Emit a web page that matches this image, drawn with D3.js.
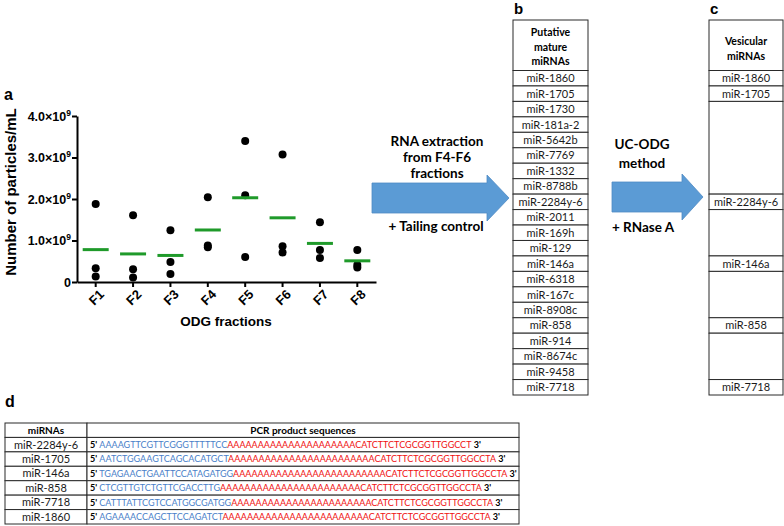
<!doctype html>
<html lang="en">
<head>
  <meta charset="utf-8">
  <title>ODG fractions and vesicular miRNAs</title>
  <script src="https://d3js.org/d3.v7.min.js"></script>
  <style>
    body { margin: 0; background: #fff; }
    text { font-family: Arial, "Liberation Sans", sans-serif; }
    .cal { font-family: Lato, "Open Sans", sans-serif; }
  </style>
</head>
<body>
  <div id="fig"></div>
<script>
  const width = 784, height = 526;

  // panel a: particles per mL, in units of 10^9
  const fractions = ["F1", "F2", "F3", "F4", "F5", "F6", "F7", "F8"];
  const particles = [
    [1.88, 0.33, 0.13],
    [1.61, 0.31, 0.11],
    [1.25, 0.48, 0.19],
    [2.04, 0.88, 0.84],
    [3.40, 2.09, 0.60],
    [3.07, 0.86, 0.71],
    [1.44, 0.77, 0.58],
    [0.77, 0.41, 0.35]
  ];
  const yTicks = [0, 1, 2, 3, 4];

  // panel b and c
  const putative = ["miR-1860", "miR-1705", "miR-1730", "miR-181a-2", "miR-5642b", "miR-7769",
    "miR-1332", "miR-8788b", "miR-2284y-6", "miR-2011", "miR-169h", "miR-129", "miR-146a",
    "miR-6318", "miR-167c", "miR-8908c", "miR-858", "miR-914", "miR-8674c", "miR-9458", "miR-7718"];
  const vesicular = ["miR-1860", "miR-1705", "miR-2284y-6", "miR-146a", "miR-858", "miR-7718"];

  // panel d
  const pcrMirnas = ["miR-2284y-6", "miR-1705", "miR-146a", "miR-858", "miR-7718", "miR-1860"];
  const pcrInsert = ["AAAAGTTCGTTCGGGTTTTTCC", "AATCTGGAAGTCAGCACATGCT", "TGAGAACTGAATTCCATAGATGG",
    "CTCGTTGTCTGTTCGACCTTG", "CATTTATTCGTCCATGGCGATGG", "AGAAAACCAGCTTCCAGATCT"];
  const pcrTail = [
    "AAAAAAAAAAAAAAAAAAAAACATCTTCTCGCGGTTGGCCT",
    "AAAAAAAAAAAAAAAAAAAAAAAACATCTTCTCGCGGTTGGCCTA",
    "AAAAAAAAAAAAAAAAAAAAAAAAACATCTTCTCGCGGTTGGCCTA",
    "AAAAAAAAAAAAAAAAAAAAAAACATCTTCTCGCGGTTGGCCTA",
    "AAAAAAAAAAAAAAAAAAAAAAACATCTTCTCGCGGTTGGCCTA",
    "AAAAAAAAAAAAAAAAAAAAAAAACATCTTCTCGCGGTTGGCCTA"
  ];

  const svg = d3.select('#fig').append('svg')
    .attr('width', width)
    .attr('height', height)
    .style('background', '#fff');

  // ---------- panel a ----------
  const x = d3.scaleBand().domain(fractions).range([77, 376]);
  const y = d3.scaleLinear().domain([0, 4]).range([282, 116]);
  const green = '#1f9a2a';

  svg.append('text').attr('x', 4).attr('y', 100)
    .style('font-weight', 'bold').style('font-size', '16px').text('a');

  const yAxis = svg.append('g')
    .attr('transform', 'translate(77,0)')
    .call(d3.axisLeft(y).tickValues(yTicks).tickSize(5).tickSizeOuter(0).tickFormat(''));
  yAxis.select('.domain').attr('stroke-width', 2);
  yAxis.selectAll('.tick line').attr('stroke-width', 2);
  yAxis.selectAll('.tick').each(function(d) {
    const t = d3.select(this).append('text')
      .attr('x', -6).attr('dy', '0.35em')
      .attr('text-anchor', 'end').attr('fill', '#000')
      .style('font-weight', 'bold').style('font-size', '12.5px');
    if (d === 0) { t.text('0'); return; }
    t.append('tspan').text(d.toFixed(1) + '\u00d710');
    t.append('tspan').attr('dy', -5).style('font-size', '8.5px').text('9');
  });

  const xAxis = svg.append('g')
    .attr('transform', 'translate(0,282)')
    .call(d3.axisBottom(x).tickSize(5).tickSizeOuter(0));
  xAxis.select('.domain').attr('stroke-width', 2);
  xAxis.selectAll('.tick line').attr('stroke-width', 2);
  xAxis.selectAll('.tick text')
    .attr('text-anchor', 'end')
    .attr('transform', 'translate(6,10) rotate(-45)')
    .attr('dy', '0.35em').attr('y', 0)
    .style('font-weight', 'bold').style('font-size', '13px');

  svg.append('text').attr('x', 226).attr('y', 326).attr('text-anchor', 'middle')
    .style('font-weight', 'bold').style('font-size', '13.5px').text('ODG fractions');
  svg.append('text').attr('transform', 'translate(16,192) rotate(-90)').attr('text-anchor', 'middle')
    .style('font-weight', 'bold').style('font-size', '15px').text('Number of particles/mL');

  const groups = svg.append('g').selectAll('g')
    .data(fractions.map((f, i) => ({f: f, vals: particles[i]})))
    .enter().append('g');
  groups.selectAll('circle')
    .data(d => d.vals.map(v => ({f: d.f, v: v})))
    .enter().append('circle')
      .attr('cx', d => x(d.f) + x.bandwidth() / 2)
      .attr('cy', d => y(d.v))
      .attr('r', 4)
      .attr('fill', '#000');
  groups.append('line')
    .attr('x1', d => x(d.f) + x.bandwidth() / 2 - 13)
    .attr('x2', d => x(d.f) + x.bandwidth() / 2 + 13)
    .attr('y1', d => y(d3.mean(d.vals)))
    .attr('y2', d => y(d3.mean(d.vals)))
    .attr('stroke', green).attr('stroke-width', 3);

  // ---------- arrows ----------
  function arrow(x0, xb, xt, cy, bh, hh) {
    return [[x0, cy - bh], [xb, cy - bh], [xb, cy - hh], [xt, cy], [xb, cy + hh], [xb, cy + bh], [x0, cy + bh]];
  }
  const arrows = [arrow(372, 487, 509, 198, 15, 23), arrow(612, 682, 703, 197, 15, 23)];
  svg.selectAll('polygon.arrow').data(arrows).enter().append('polygon')
    .attr('class', 'arrow')
    .attr('points', d => d.map(p => p.join(',')).join(' '))
    .attr('fill', '#5b9bd5').attr('stroke', '#4f8ac4').attr('stroke-width', 0.8);

  const arrowText = [
    {x: 437, y: 146, t: 'RNA extraction'}, {x: 437, y: 162, t: 'from F4-F6'}, {x: 437, y: 178, t: 'fractions'},
    {x: 436, y: 231, t: '+ Tailing control'},
    {x: 642, y: 149, t: 'UC-ODG'}, {x: 642, y: 168, t: 'method'}, {x: 643, y: 232, t: '+ RNase A'}
  ];
  svg.selectAll('text.arr').data(arrowText).enter().append('text')
    .attr('class', 'arr cal')
    .attr('x', d => d.x).attr('y', d => d.y).attr('text-anchor', 'middle')
    .style('font-weight', 'bold').style('font-size', '13.5px').text(d => d.t);

  // ---------- panel b and c ----------
  const rowY = d3.scaleBand().domain(d3.range(putative.length)).range([70.5, 395]);
  const bx = [513, 588], cx = [709, 783];
  const tableStroke = '#2a2a2a';

  svg.append('text').attr('x', 514).attr('y', 14)
    .style('font-weight', 'bold').style('font-size', '15px').text('b');
  svg.append('text').attr('x', 710).attr('y', 14)
    .style('font-weight', 'bold').style('font-size', '15px').text('c');

  const tb = svg.append('g');
  tb.append('rect').attr('x', bx[0]).attr('y', 20).attr('width', bx[1] - bx[0]).attr('height', 50.5)
    .attr('fill', '#fff').attr('stroke', tableStroke);
  tb.selectAll('text.hd').data(['Putative', 'mature', 'miRNAs']).enter().append('text')
    .attr('class', 'cal').attr('x', (bx[0] + bx[1]) / 2).attr('y', (d, i) => 36 + i * 14.5)
    .attr('text-anchor', 'middle').style('font-weight', 'bold').style('font-size', '10.5px').text(d => d);
  tb.selectAll('rect.row').data(putative).enter().append('rect')
    .attr('x', bx[0]).attr('y', (d, i) => rowY(i))
    .attr('width', bx[1] - bx[0]).attr('height', rowY.bandwidth())
    .attr('fill', '#fff').attr('stroke', tableStroke);
  tb.selectAll('text.row').data(putative).enter().append('text')
    .attr('class', 'cal').attr('x', (bx[0] + bx[1]) / 2).attr('y', (d, i) => rowY(i) + rowY.bandwidth() / 2)
    .attr('dy', '0.36em').attr('text-anchor', 'middle').attr('fill', '#1a1a1a')
    .style('font-size', '11px').text(d => d);

  // table c: vesicular rows keep their position, gaps merged into blank cells
  const segs = [];
  putative.forEach((m, i) => {
    const hit = vesicular.includes(m);
    const last = segs[segs.length - 1];
    if (!hit && last && !last.label) last.end = i;
    else segs.push({start: i, end: i, label: hit ? m : null});
  });
  const tc = svg.append('g');
  tc.append('rect').attr('x', cx[0]).attr('y', 20).attr('width', cx[1] - cx[0]).attr('height', 50.5)
    .attr('fill', '#fff').attr('stroke', tableStroke);
  tc.selectAll('text.hd').data(['Vesicular', 'miRNAs']).enter().append('text')
    .attr('class', 'cal').attr('x', (cx[0] + cx[1]) / 2).attr('y', (d, i) => 45 + i * 15)
    .attr('text-anchor', 'middle').style('font-weight', 'bold').style('font-size', '10.5px').text(d => d);
  tc.selectAll('rect.seg').data(segs).enter().append('rect')
    .attr('x', cx[0]).attr('y', d => rowY(d.start))
    .attr('width', cx[1] - cx[0]).attr('height', d => rowY(d.end) + rowY.bandwidth() - rowY(d.start))
    .attr('fill', '#fff').attr('stroke', tableStroke);
  tc.selectAll('text.seg').data(segs.filter(d => d.label)).enter().append('text')
    .attr('class', 'cal').attr('x', (cx[0] + cx[1]) / 2).attr('y', d => rowY(d.start) + rowY.bandwidth() / 2)
    .attr('dy', '0.36em').attr('text-anchor', 'middle').attr('fill', '#1a1a1a')
    .style('font-size', '11px').text(d => d.label);

  // ---------- panel d ----------
  svg.append('text').attr('x', 5).attr('y', 407)
    .style('font-weight', 'bold').style('font-size', '16px').text('d');

  const dRow = d3.scaleBand().domain(d3.range(pcrMirnas.length + 1)).range([423, 524]);
  const dCols = [5, 87, 519];
  const td = svg.append('g');
  td.selectAll('rect.c1').data(d3.range(pcrMirnas.length + 1)).enter().append('rect')
    .attr('x', dCols[0]).attr('y', d => dRow(d)).attr('width', dCols[1] - dCols[0]).attr('height', dRow.bandwidth())
    .attr('fill', '#fff').attr('stroke', tableStroke);
  td.selectAll('rect.c2').data(d3.range(pcrMirnas.length + 1)).enter().append('rect')
    .attr('x', dCols[1]).attr('y', d => dRow(d)).attr('width', dCols[2] - dCols[1]).attr('height', dRow.bandwidth())
    .attr('fill', '#fff').attr('stroke', tableStroke);
  td.append('text').attr('class', 'cal').attr('x', (dCols[0] + dCols[1]) / 2).attr('y', dRow(0) + dRow.bandwidth() / 2)
    .attr('dy', '0.36em').attr('text-anchor', 'middle').style('font-weight', 'bold').style('font-size', '10px').text('miRNAs');
  td.append('text').attr('class', 'cal').attr('x', (dCols[1] + dCols[2]) / 2).attr('y', dRow(0) + dRow.bandwidth() / 2)
    .attr('dy', '0.36em').attr('text-anchor', 'middle').style('font-weight', 'bold').style('font-size', '10px')
    .text('PCR product sequences');
  td.selectAll('text.mi').data(pcrMirnas).enter().append('text')
    .attr('class', 'cal').attr('x', (dCols[0] + dCols[1]) / 2).attr('y', (d, i) => dRow(i + 1) + dRow.bandwidth() / 2)
    .attr('dy', '0.36em').attr('text-anchor', 'middle').attr('fill', '#1a1a1a').style('font-size', '11px').text(d => d);

  const seqs = td.selectAll('text.seq').data(pcrMirnas).enter().append('text')
    .attr('class', 'cal').attr('x', dCols[1] + 3).attr('y', (d, i) => dRow(i + 1) + dRow.bandwidth() / 2)
    .attr('dy', '0.36em').style('font-size', '10px');
  seqs.append('tspan').style('font-weight', 'bold').attr('fill', '#000').text("5' ");
  seqs.append('tspan').attr('fill', '#4a7fc9').text((d, i) => pcrInsert[i]);
  seqs.append('tspan').attr('fill', '#f01010').text((d, i) => pcrTail[i]);
  seqs.append('tspan').style('font-weight', 'bold').attr('fill', '#000').text(" 3'");

  // fit the sequence font so the widest row ends near the right border
  const widest = d3.max(seqs.nodes(), n => n.getComputedTextLength());
  seqs.style('font-size', (10 * (dCols[2] - 2 - dCols[1] - 3) / widest) + 'px');
</script>
</body>
</html>
